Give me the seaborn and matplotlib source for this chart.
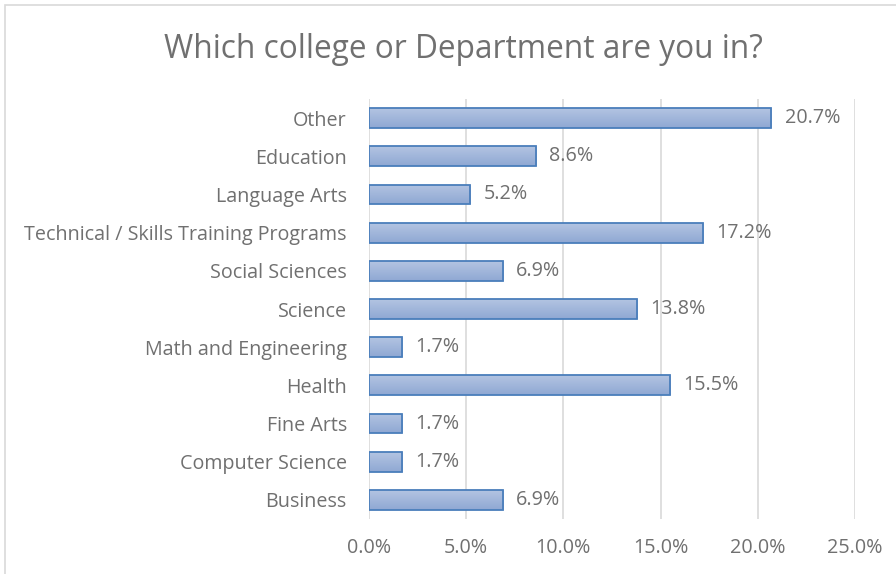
import numpy as np
import pandas as pd
import matplotlib
matplotlib.use("Agg")
import matplotlib.pyplot as plt
from matplotlib.patches import Rectangle
import seaborn as sns

categories = ["Other", "Education", "Language Arts", "Technical / Skills Training Programs",
              "Social Sciences", "Science", "Math and Engineering", "Health",
              "Fine Arts", "Computer Science", "Business"]
values = [20.7, 8.6, 5.2, 17.2, 6.9, 13.8, 1.7, 15.5, 1.7, 1.7, 6.9]
xticks = [0, 5, 10, 15, 20, 25]
tick_labels = ["0.0%", "5.0%", "10.0%", "15.0%", "20.0%", "25.0%"]
title = "Which college or Department are you in?"

sns.set_style("white")
plt.rcParams["font.family"] = ["Open Sans", "DejaVu Sans"]

text_color = "#707070"
grid_color = "#d9d9d9"
edge_color = "#4a7ebb"

df = pd.DataFrame({"category": categories, "value": values})

fig = plt.figure(figsize=(8.96, 5.74), dpi=100)
ax = fig.add_axes([0.4118, 0.0958, 0.5424, 0.7317])

sns.barplot(data=df, x="value", y="category", orient="h", ax=ax,
            color="#a5b8dc", edgecolor=edge_color, linewidth=1.3, width=0.52)

# vertical gradient fill inside each bar
grad = np.linspace(0, 1, 64).reshape(-1, 1)
cmap = matplotlib.colors.LinearSegmentedColormap.from_list("bar", ["#b3c4e2", "#8fa8d3"])
for p in list(ax.patches):
    x0, y0 = p.get_x(), p.get_y()
    w, h = p.get_width(), p.get_height()
    im = ax.imshow(grad, cmap=cmap, aspect="auto", extent=(x0, x0 + w, y0 + h, y0),
                   origin="upper", zorder=p.get_zorder() - 0.1, interpolation="bilinear")
    im.set_clip_path(p)
    p.set_facecolor("none")

ax.set_xlim(0, 25)
ax.set_ylim(10.5, -0.5)
ax.set_xticks(xticks)
ax.set_xticklabels(tick_labels)
ax.set_xlabel("")
ax.set_ylabel("")
ax.grid(axis="x", color=grid_color, linewidth=1.2)
ax.set_axisbelow(True)
for s in ax.spines.values():
    s.set_visible(False)
ax.tick_params(axis="both", length=0, colors=text_color, labelsize=14.2)
ax.tick_params(axis="x", pad=14)
ax.tick_params(axis="y", pad=16)

for i, v in enumerate(values):
    ax.annotate(f"{v:.1f}%", xy=(v, i), xytext=(9.5, 0), textcoords="offset points",
                ha="left", va="center", color=text_color, fontsize=14.2)

fig.text(0.517, 0.914, title, ha="center", va="center", color=text_color, fontsize=22.8)

fig.patches.append(Rectangle((5 / 896, -0.01), 1.0, 1 - 5 / 574 + 0.01, transform=fig.transFigure,
                             fill=False, edgecolor=grid_color, linewidth=1.2))

fig.savefig("out.png", dpi=100, facecolor="white")
